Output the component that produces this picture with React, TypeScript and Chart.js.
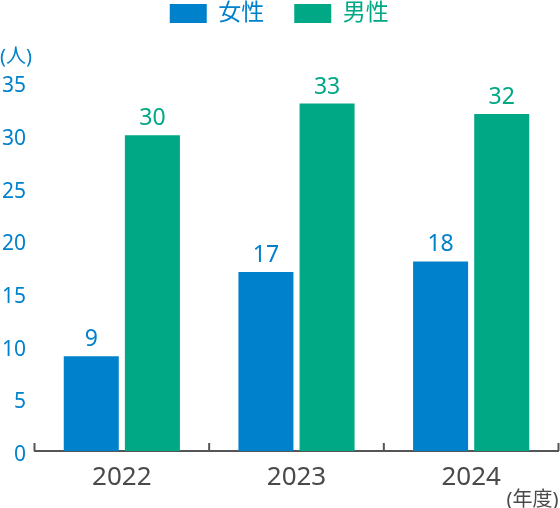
import { Chart, registerables } from "chart.js";
import React, { useEffect, useRef } from "react";

Chart.register(...registerables);

// data
const years = ["2022", "2023", "2024"];
const women = [9, 17, 18];
const men = [30, 33, 32];
const seriesNames = ["女性", "男性"];
const yTicks = [0, 5, 10, 15, 20, 25, 30, 35];

const BLUE = "#0081cc";
const GREEN = "#00a886";
const GRAY = "#4a4a4a";
const FONT = "'Noto Sans', 'Noto Sans CJK JP', sans-serif";

// values drawn above each bar
const valueLabels = {
  id: "valueLabels",
  afterDatasetsDraw(chart: any) {
    const { ctx } = chart;
    ctx.save();
    ctx.font = `23px ${FONT}`;
    ctx.textAlign = "center";
    ctx.textBaseline = "alphabetic";
    chart.data.datasets.forEach((ds: any, i: number) => {
      const meta = chart.getDatasetMeta(i);
      ctx.fillStyle = ds.backgroundColor;
      meta.data.forEach((bar: any, j: number) => {
        ctx.fillText(String(ds.data[j]), bar.x, bar.y - 10);
      });
    });
    ctx.restore();
  },
};

// short upward tick marks between the categories
const boundaryTicks = {
  id: "boundaryTicks",
  afterDraw(chart: any) {
    const { ctx } = chart;
    const x = chart.scales.x;
    const step = x.getPixelForValue(1) - x.getPixelForValue(0);
    ctx.save();
    ctx.strokeStyle = "#555";
    ctx.lineWidth = 2;
    for (let i = 0; i <= years.length; i++) {
      const px = x.getPixelForValue(0) + (i - 0.5) * step;
      ctx.beginPath();
      ctx.moveTo(px, x.top);
      ctx.lineTo(px, x.top - 8);
      ctx.stroke();
    }
    ctx.restore();
  },
};

const App: React.FC = () => {
  const chartRef = useRef<HTMLCanvasElement>(null);

  useEffect(() => {
    if (!chartRef.current) return;
    const ctx = chartRef.current.getContext("2d");
    if (!ctx) return;
    const chart = new Chart(ctx, {
      type: "bar",
      data: {
        labels: years,
        datasets: [
          { label: seriesNames[0], data: women, backgroundColor: BLUE },
          { label: seriesNames[1], data: men, backgroundColor: GREEN },
        ],
      },
      options: {
        animation: false,
        responsive: false,
        layout: { padding: { top: -28, right: 1.5, left: 0, bottom: 0 } },
        datasets: {
          bar: { barPercentage: 0.9, categoryPercentage: 0.7 },
        },
        scales: {
          x: {
            afterFit: (s: any) => {
              s.height = 37;
            },
            grid: { display: false, drawTicks: false },
            border: { display: true, color: "#555", width: 2 },
            ticks: {
              color: GRAY,
              padding: 14,
              font: { family: FONT, size: 26, lineHeight: 1 },
            },
          },
          y: {
            min: 0,
            max: 35,
            afterFit: (s: any) => {
              s.width = 34.5;
            },
            afterBuildTicks: (s: any) => {
              s.ticks = yTicks.map((v) => ({ value: v }));
            },
            grid: { display: false, drawTicks: false },
            border: { display: false },
            ticks: {
              color: BLUE,
              padding: 8.5,
              labelOffset: 4,
              font: { family: FONT, size: 21 },
            },
          },
        },
        plugins: {
          legend: {
            position: "top",
            labels: {
              boxWidth: 37,
              boxHeight: 19,
              padding: 30,
              font: { family: FONT, size: 23 },
              generateLabels: (c: any) =>
                Chart.defaults.plugins.legend.labels
                  .generateLabels(c)
                  .map((it: any, i: number) => ({
                    ...it,
                    lineWidth: 0,
                    fontColor: i === 0 ? BLUE : GREEN,
                  })),
            },
          },
          title: {
            display: true,
            text: "(人)",
            align: "start",
            weight: 500,
            color: BLUE,
            font: { family: FONT, size: 20, weight: "normal", lineHeight: 1 },
            padding: { top: 12, bottom: 15.5 },
          } as any,
          subtitle: {
            display: true,
            text: "(年度)",
            position: "bottom",
            align: "end",
            color: GRAY,
            font: { family: FONT, size: 20, lineHeight: 1 },
            padding: { top: 2, bottom: -2 },
          },
          tooltip: { enabled: false },
        },
      },
      plugins: [valueLabels, boundaryTicks],
    });
    return () => {
      chart.destroy();
    };
  }, []);

  return (
    <div style={{ position: "absolute", left: 0, top: 0 }}>
      <canvas ref={chartRef} width={560} height={508} />
    </div>
  );
};

export default App;
